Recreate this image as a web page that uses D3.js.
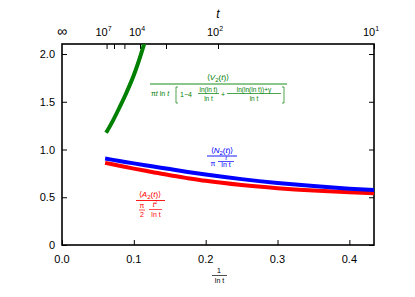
<!DOCTYPE html>
<html>
<head>
<meta charset="utf-8">
<script src="https://cdn.jsdelivr.net/npm/d3@7"></script>
<style>
  body { margin: 0; background: #fff; }
  text { font-family: "Liberation Sans", Arial, sans-serif; }
</style>
</head>
<body>
<div id="chart"></div>
<script>
// data: x is 1/ln t
var invLnT = [0.06, 0.08, 0.1, 0.125, 0.15, 0.175, 0.2, 0.25, 0.3, 0.35, 0.4, 0.4343];
var ratioN2 = [0.905, 0.88, 0.855, 0.825, 0.795, 0.765, 0.738, 0.69, 0.65, 0.617, 0.59, 0.575];
var ratioA2 = [0.86, 0.83, 0.80, 0.765, 0.73, 0.70, 0.672, 0.628, 0.595, 0.57, 0.552, 0.543];
var invLnTV2 = [0.0614, 0.07, 0.08, 0.09, 0.1, 0.11, 0.12];
var ratioV2 = [1.176, 1.29, 1.44, 1.60, 1.78, 2.00, 2.25];

var xTicks = [0, 0.1, 0.2, 0.3, 0.4];
var yTicks = [0, 0.5, 1.0, 1.5, 2.0];
var yTickLabels = ["0", "0.5", "1.0", "1.5", "2.0"];
var topTickT = [1e7, 1e6, 1e5, 1e4, 1e3, 1e2, 1e1];
var topLabelExp = [7, 4, 2, 1];

var svgWidth = 415, svgHeight = 297;
var margin = {top: 44, right: 41, bottom: 52, left: 62};
var width = svgWidth - margin.left - margin.right;
var height = svgHeight - margin.top - margin.bottom;

var svg = d3.select("#chart").append("svg")
  .attr("width", svgWidth)
  .attr("height", svgHeight);

var chartGroup = svg.append("g")
  .attr("transform", `translate(${margin.left}, ${margin.top})`);

var xScale = d3.scaleLinear().domain([0, 1 / Math.LN10]).range([0, width]);
var yScale = d3.scaleLinear().domain([0, 2.105]).range([height, 0]);

chartGroup.append("clipPath").attr("id", "clip")
  .append("rect").attr("width", width).attr("height", height);

// axes, ticks pointing inward
var bottomAxis = d3.axisTop(xScale).tickValues(xTicks).tickSize(5).tickFormat("");
var leftAxis = d3.axisRight(yScale).tickValues(yTicks).tickSize(5).tickFormat("");
var rightAxis = d3.axisLeft(yScale).tickValues(yTicks).tickSize(5).tickFormat("");
var topAxis = d3.axisBottom(xScale)
  .tickValues(topTickT.map(t => 1 / Math.log(t))).tickSize(5).tickFormat("");

[[bottomAxis, `translate(0,${height})`], [leftAxis, null], [rightAxis, `translate(${width},0)`], [topAxis, null]]
  .forEach(function(a) {
    var g = chartGroup.append("g").call(a[0]);
    if (a[1]) g.attr("transform", a[1]);
    g.select(".domain").remove();
    g.selectAll("line").attr("stroke", "#000").attr("stroke-width", 1);
  });

// frame
chartGroup.append("rect")
  .attr("width", width).attr("height", height)
  .attr("fill", "none").attr("stroke", "#000").attr("stroke-width", 1.6);

// tick labels
chartGroup.selectAll(".xlab").data(xTicks).enter().append("text")
  .attr("x", d => xScale(d)).attr("y", height + 18)
  .attr("text-anchor", "middle").attr("font-size", 11)
  .text(d => d.toFixed(1));

chartGroup.selectAll(".ylab").data(yTicks).enter().append("text")
  .attr("x", -7).attr("y", d => yScale(d) + 4)
  .attr("text-anchor", "end").attr("font-size", 11)
  .text((d, i) => yTickLabels[i]);

// top labels
chartGroup.append("text").attr("x", xScale(0)).attr("y", -8)
  .attr("text-anchor", "middle").attr("font-size", 14).text("\u221E");

topLabelExp.forEach(function(e) {
  var tx = xScale(1 / Math.log(Math.pow(10, e)));
  var lab = chartGroup.append("text").attr("x", tx - 3).attr("y", -8)
    .attr("text-anchor", "middle").attr("font-size", 11);
  lab.append("tspan").text("10");
  lab.append("tspan").attr("dy", -5).attr("font-size", 7).text(e);
});

chartGroup.append("text").attr("x", xScale(1 / Math.log(100))).attr("y", -26)
  .attr("text-anchor", "middle").attr("font-size", 12).attr("font-style", "italic").text("t");

// curves
var line = d3.line().curve(d3.curveMonotoneX)
  .x(d => xScale(d[0])).y(d => yScale(d[1]));

var plot = chartGroup.append("g").attr("clip-path", "url(#clip)");

var series = [
  {x: invLnT, y: ratioA2, color: "#ff0000"},
  {x: invLnT, y: ratioN2, color: "#0000ff"},
  {x: invLnTV2, y: ratioV2, color: "#008000"}
];

series.forEach(function(s) {
  plot.append("path")
    .datum(s.x.map((v, i) => [v, s.y[i]]))
    .attr("d", line)
    .attr("fill", "none")
    .attr("stroke", s.color)
    .attr("stroke-width", 4);
});

// helpers for the formula labels (page coordinates)
function txt(g, x, y, size, str, anchor, italic) {
  return g.append("text").attr("x", x).attr("y", y)
    .attr("font-size", size).attr("text-anchor", anchor || "start")
    .attr("font-style", italic ? "italic" : null).text(str);
}
function bar(g, x1, x2, y, w) {
  g.append("line").attr("x1", x1).attr("x2", x2).attr("y1", y).attr("y2", y)
    .attr("stroke", g.attr("fill")).attr("stroke-width", w || 0.7);
}
function bracket(g, pts) {
  g.append("path").attr("d", d3.line()(pts)).attr("fill", "none")
    .attr("stroke", g.attr("fill")).attr("stroke-width", 0.7);
}

// green label
var gl = svg.append("g").attr("fill", "#008000");
var num = gl.append("text").attr("x", 218).attr("y", 80).attr("font-size", 8).attr("text-anchor", "middle");
num.append("tspan").text("\u27E8");
num.append("tspan").attr("font-style", "italic").text("V");
num.append("tspan").attr("dy", 2).attr("font-size", 6).text("2");
num.append("tspan").attr("dy", -2).text("(");
num.append("tspan").attr("font-style", "italic").text("t");
num.append("tspan").text(")\u27E9");
bar(gl, 150, 287, 84, 0.9);
var den = gl.append("text").attr("x", 151).attr("y", 96).attr("font-size", 7);
den.append("tspan").text("\u03C0");
den.append("tspan").attr("font-style", "italic").text("t");
den.append("tspan").text(" ln ");
den.append("tspan").attr("font-style", "italic").text("t");
bracket(gl, [[178, 87], [176, 87], [176, 103], [178, 103]]);
txt(gl, 180, 97, 7, "1\u22124");
txt(gl, 208.5, 91.5, 6.5, "ln(ln t)", "middle");
bar(gl, 198, 219, 93.5);
txt(gl, 208.5, 100.5, 6.5, "ln t", "middle");
txt(gl, 221, 97, 7, "+");
txt(gl, 254, 91.5, 6.5, "ln(ln(ln t))+\u03B3", "middle");
bar(gl, 227, 281, 93.5);
txt(gl, 254, 100.5, 6.5, "ln t", "middle");
bracket(gl, [[282, 87], [284, 87], [284, 103], [282, 103]]);

// blue label
var bl = svg.append("g").attr("fill", "#0000ff");
var bn = bl.append("text").attr("x", 222).attr("y", 153).attr("font-size", 8).attr("text-anchor", "middle");
bn.append("tspan").text("\u27E8");
bn.append("tspan").attr("font-style", "italic").text("N");
bn.append("tspan").attr("dy", 2).attr("font-size", 6).text("2");
bn.append("tspan").attr("dy", -2).text("(");
bn.append("tspan").attr("font-style", "italic").text("t");
bn.append("tspan").text(")\u27E9");
bar(bl, 207, 237, 156, 0.9);
txt(bl, 213, 166, 7, "\u03C0", "middle");
txt(bl, 226, 160, 6, "t", "middle", true);
bar(bl, 218, 234, 161.5);
txt(bl, 226, 167, 7, "ln  t", "middle");

// red label
var rl = svg.append("g").attr("fill", "#ff0000");
var rn = rl.append("text").attr("x", 150).attr("y", 197).attr("font-size", 8).attr("text-anchor", "middle");
rn.append("tspan").text("\u27E8");
rn.append("tspan").attr("font-style", "italic").text("A");
rn.append("tspan").attr("dy", 2).attr("font-size", 6).text("2");
rn.append("tspan").attr("dy", -2).text("(");
rn.append("tspan").attr("font-style", "italic").text("t");
rn.append("tspan").text(")\u27E9");
bar(rl, 136, 165, 200.5, 0.9);
txt(rl, 142, 208, 7, "\u03C0", "middle");
bar(rl, 139, 145, 210);
txt(rl, 142, 217, 7, "2", "middle");
var tt = rl.append("text").attr("x", 155).attr("y", 207).attr("font-size", 7).attr("text-anchor", "middle");
tt.append("tspan").attr("font-style", "italic").text("t");
tt.append("tspan").attr("dy", -3).attr("font-size", 5).text("2");
bar(rl, 149, 162, 209.5);
txt(rl, 156, 217, 7, "ln t", "middle");

// bottom axis label
var xl = svg.append("g").attr("fill", "#000");
txt(xl, 219, 273, 7, "1", "middle");
bar(xl, 212, 227, 275.5);
txt(xl, 219.5, 283, 7, "ln  t", "middle");
</script>
</body>
</html>
